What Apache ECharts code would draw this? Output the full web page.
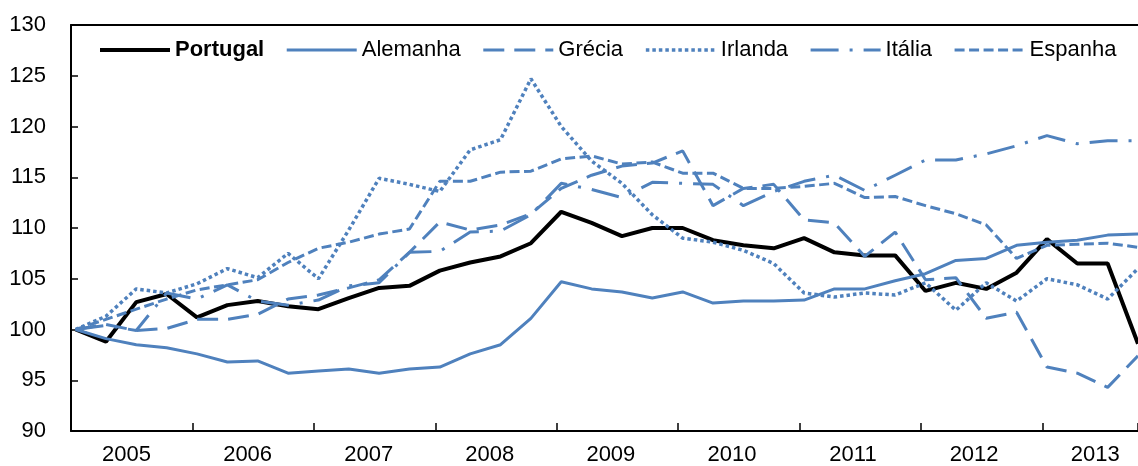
<!DOCTYPE html>
<html>
<head>
<meta charset="utf-8">
<script src="https://cdn.jsdelivr.net/npm/echarts@6/dist/echarts.min.js"></script>
<style>
  html, body { margin: 0; padding: 0; background: #fff; }
  #chart { width: 1138px; height: 466px; }
</style>
</head>
<body>
<div id="chart"></div>
<script>
// quarterly index, 2005 Q1 = 100
var years = ['2005', '2006', '2007', '2008', '2009', '2010', '2011', '2012', '2013'];

var portugal = [100, 98.8, 102.7, 103.5, 101.2, 102.4, 102.8, 102.3, 102.0, 103.1, 104.1, 104.3,
  105.8, 106.6, 107.2, 108.5, 111.6, 110.5, 109.2, 110.0, 110.0, 108.8, 108.3, 108.0,
  109.0, 107.6, 107.3, 107.3, 103.8, 104.6, 104.0, 105.6, 108.9, 106.5, 106.5, 98.6];
var alemanha = [100, 99.1, 98.5, 98.2, 97.6, 96.8, 96.9, 95.7, 95.9, 96.1, 95.7, 96.1,
  96.3, 97.6, 98.5, 101.1, 104.7, 104.0, 103.7, 103.1, 103.7, 102.6, 102.8, 102.8,
  102.9, 104.0, 104.0, 104.8, 105.5, 106.8, 107.0, 108.3, 108.6, 108.8, 109.3, 109.4];
var grecia = [100, 100.5, 99.9, 100.1, 101.0, 101.0, 101.5, 103.0, 103.4, 104.1, 104.9, 107.6,
  110.6, 109.8, 110.3, 111.4, 113.9, 115.2, 116.1, 116.4, 117.6, 112.2, 113.9, 114.3,
  110.8, 110.5, 107.2, 109.6, 104.9, 105.1, 101.1, 101.7, 96.3, 95.7, 94.3, 97.4];
var irlanda = [100, 101.3, 104.0, 103.6, 104.5, 106.0, 105.1, 107.5, 105.0, 109.8, 114.9, 114.3,
  113.6, 117.7, 118.7, 124.7, 120.0, 116.6, 114.4, 111.3, 109.0, 108.6, 107.8, 106.5,
  103.6, 103.2, 103.6, 103.4, 104.6, 101.9, 104.6, 102.8, 105.0, 104.4, 103.0, 106.0];
var italia = [100, 100.4, 99.9, 103.6, 103.0, 104.4, 102.8, 102.4, 102.9, 104.3, 104.6, 107.6,
  107.7, 109.6, 109.7, 111.3, 114.4, 113.8, 113.0, 114.5, 114.4, 114.3, 112.2, 113.6,
  114.6, 115.2, 113.7, 115.2, 116.7, 116.7, 117.3, 118.1, 119.1, 118.3, 118.6, 118.6];
var espanha = [100, 101.0, 102.0, 103.0, 103.9, 104.4, 104.9, 106.6, 108.0, 108.6, 109.4, 109.9,
  114.6, 114.6, 115.5, 115.6, 116.8, 117.1, 116.3, 116.5, 115.4, 115.4, 113.9, 113.9,
  114.1, 114.4, 113.0, 113.1, 112.2, 111.4, 110.3, 107.0, 108.3, 108.4, 108.5, 108.1];

var FONT = "'Liberation Sans', Arial, sans-serif";
var BLUE = '#4f81bd';
var SHIFT = 0.15; // points sit a little right of the year ticks

function toPoints(arr) {
  return arr.map(function (v, i) { return [i + SHIFT, v]; });
}

function makeSeries(name, arr, color, width, dash) {
  return {
    name: name,
    type: 'line',
    xAxisIndex: 0,
    yAxisIndex: 0,
    symbol: 'none',
    data: toPoints(arr),
    lineStyle: { color: color, width: width, type: dash },
    itemStyle: { color: color }
  };
}

var chart = echarts.init(document.getElementById('chart'));
var xMax = portugal.length - 1 + SHIFT;
var gridBox = { left: 71, right: -5, top: 25, bottom: 35 };

chart.setOption({
  animation: false,
  backgroundColor: '#fff',
  grid: [
    Object.assign({}, gridBox),
    Object.assign({}, gridBox)
  ],
  legend: {
    left: 93,
    top: 34,
    width: 1100,
    itemWidth: 70,
    itemHeight: 14,
    itemGap: 21,
    itemStyle: { opacity: 0, borderWidth: 0 },
    lineStyle: { width: 'inherit', type: 'inherit' },
    textStyle: { fontFamily: FONT, fontSize: 22, color: '#000' },
    data: [
      { name: 'Portugal', textStyle: { fontWeight: 'bold' } },
      'Alemanha', 'Grécia', 'Irlanda', 'Itália', 'Espanha'
    ]
  },
  xAxis: [
    {
      gridIndex: 0,
      type: 'value',
      position: 'bottom',
      min: 0,
      max: xMax,
      interval: 4,
      axisLine: { lineStyle: { color: '#000', width: 2 } },
      axisTick: { inside: true, length: 8, lineStyle: { color: '#000', width: 1.5 } },
      axisLabel: { show: false },
      splitLine: { show: false }
    },
    {
      gridIndex: 0,
      type: 'value',
      position: 'top',
      min: 0,
      max: xMax,
      axisLine: { lineStyle: { color: '#000', width: 2 } },
      axisTick: { show: false },
      axisLabel: { show: false },
      splitLine: { show: false }
    },
    {
      // year labels, centred in each year band
      gridIndex: 1,
      type: 'value',
      position: 'bottom',
      min: 0,
      max: xMax,
      interval: 2,
      axisLine: { show: false },
      axisTick: { show: false },
      splitLine: { show: false },
      axisLabel: {
        margin: 21,
        padding: [0, 10, 0, 0],
        fontFamily: FONT,
        fontSize: 22,
        color: '#000',
        formatter: function (v) {
          var k = Math.round(v / 2);
          return k % 2 === 1 ? years[(k - 1) / 2] || '' : '';
        }
      }
    }
  ],
  yAxis: [
    {
      gridIndex: 0,
      type: 'value',
      min: 90,
      max: 130,
      interval: 5,
      axisLine: { show: true, lineStyle: { color: '#000', width: 2 } },
      axisTick: { show: true, inside: true, length: 7, lineStyle: { color: '#000', width: 1.5 } },
      axisLabel: { margin: 25, fontFamily: FONT, fontSize: 22, color: '#000' },
      splitLine: { show: false }
    },
    {
      gridIndex: 1,
      type: 'value',
      min: 90,
      max: 130,
      show: false
    }
  ],
  series: [
    makeSeries('Portugal', portugal, '#000', 4, 'solid'),
    makeSeries('Alemanha', alemanha, BLUE, 3, 'solid'),
    makeSeries('Grécia', grecia, BLUE, 3, [21, 10]),
    makeSeries('Irlanda', irlanda, BLUE, 3.5, [3.5, 3]),
    makeSeries('Itália', italia, BLUE, 3, [28, 11, 3, 11]),
    makeSeries('Espanha', espanha, BLUE, 3, [10, 4.5])
  ]
});
</script>
</body>
</html>
